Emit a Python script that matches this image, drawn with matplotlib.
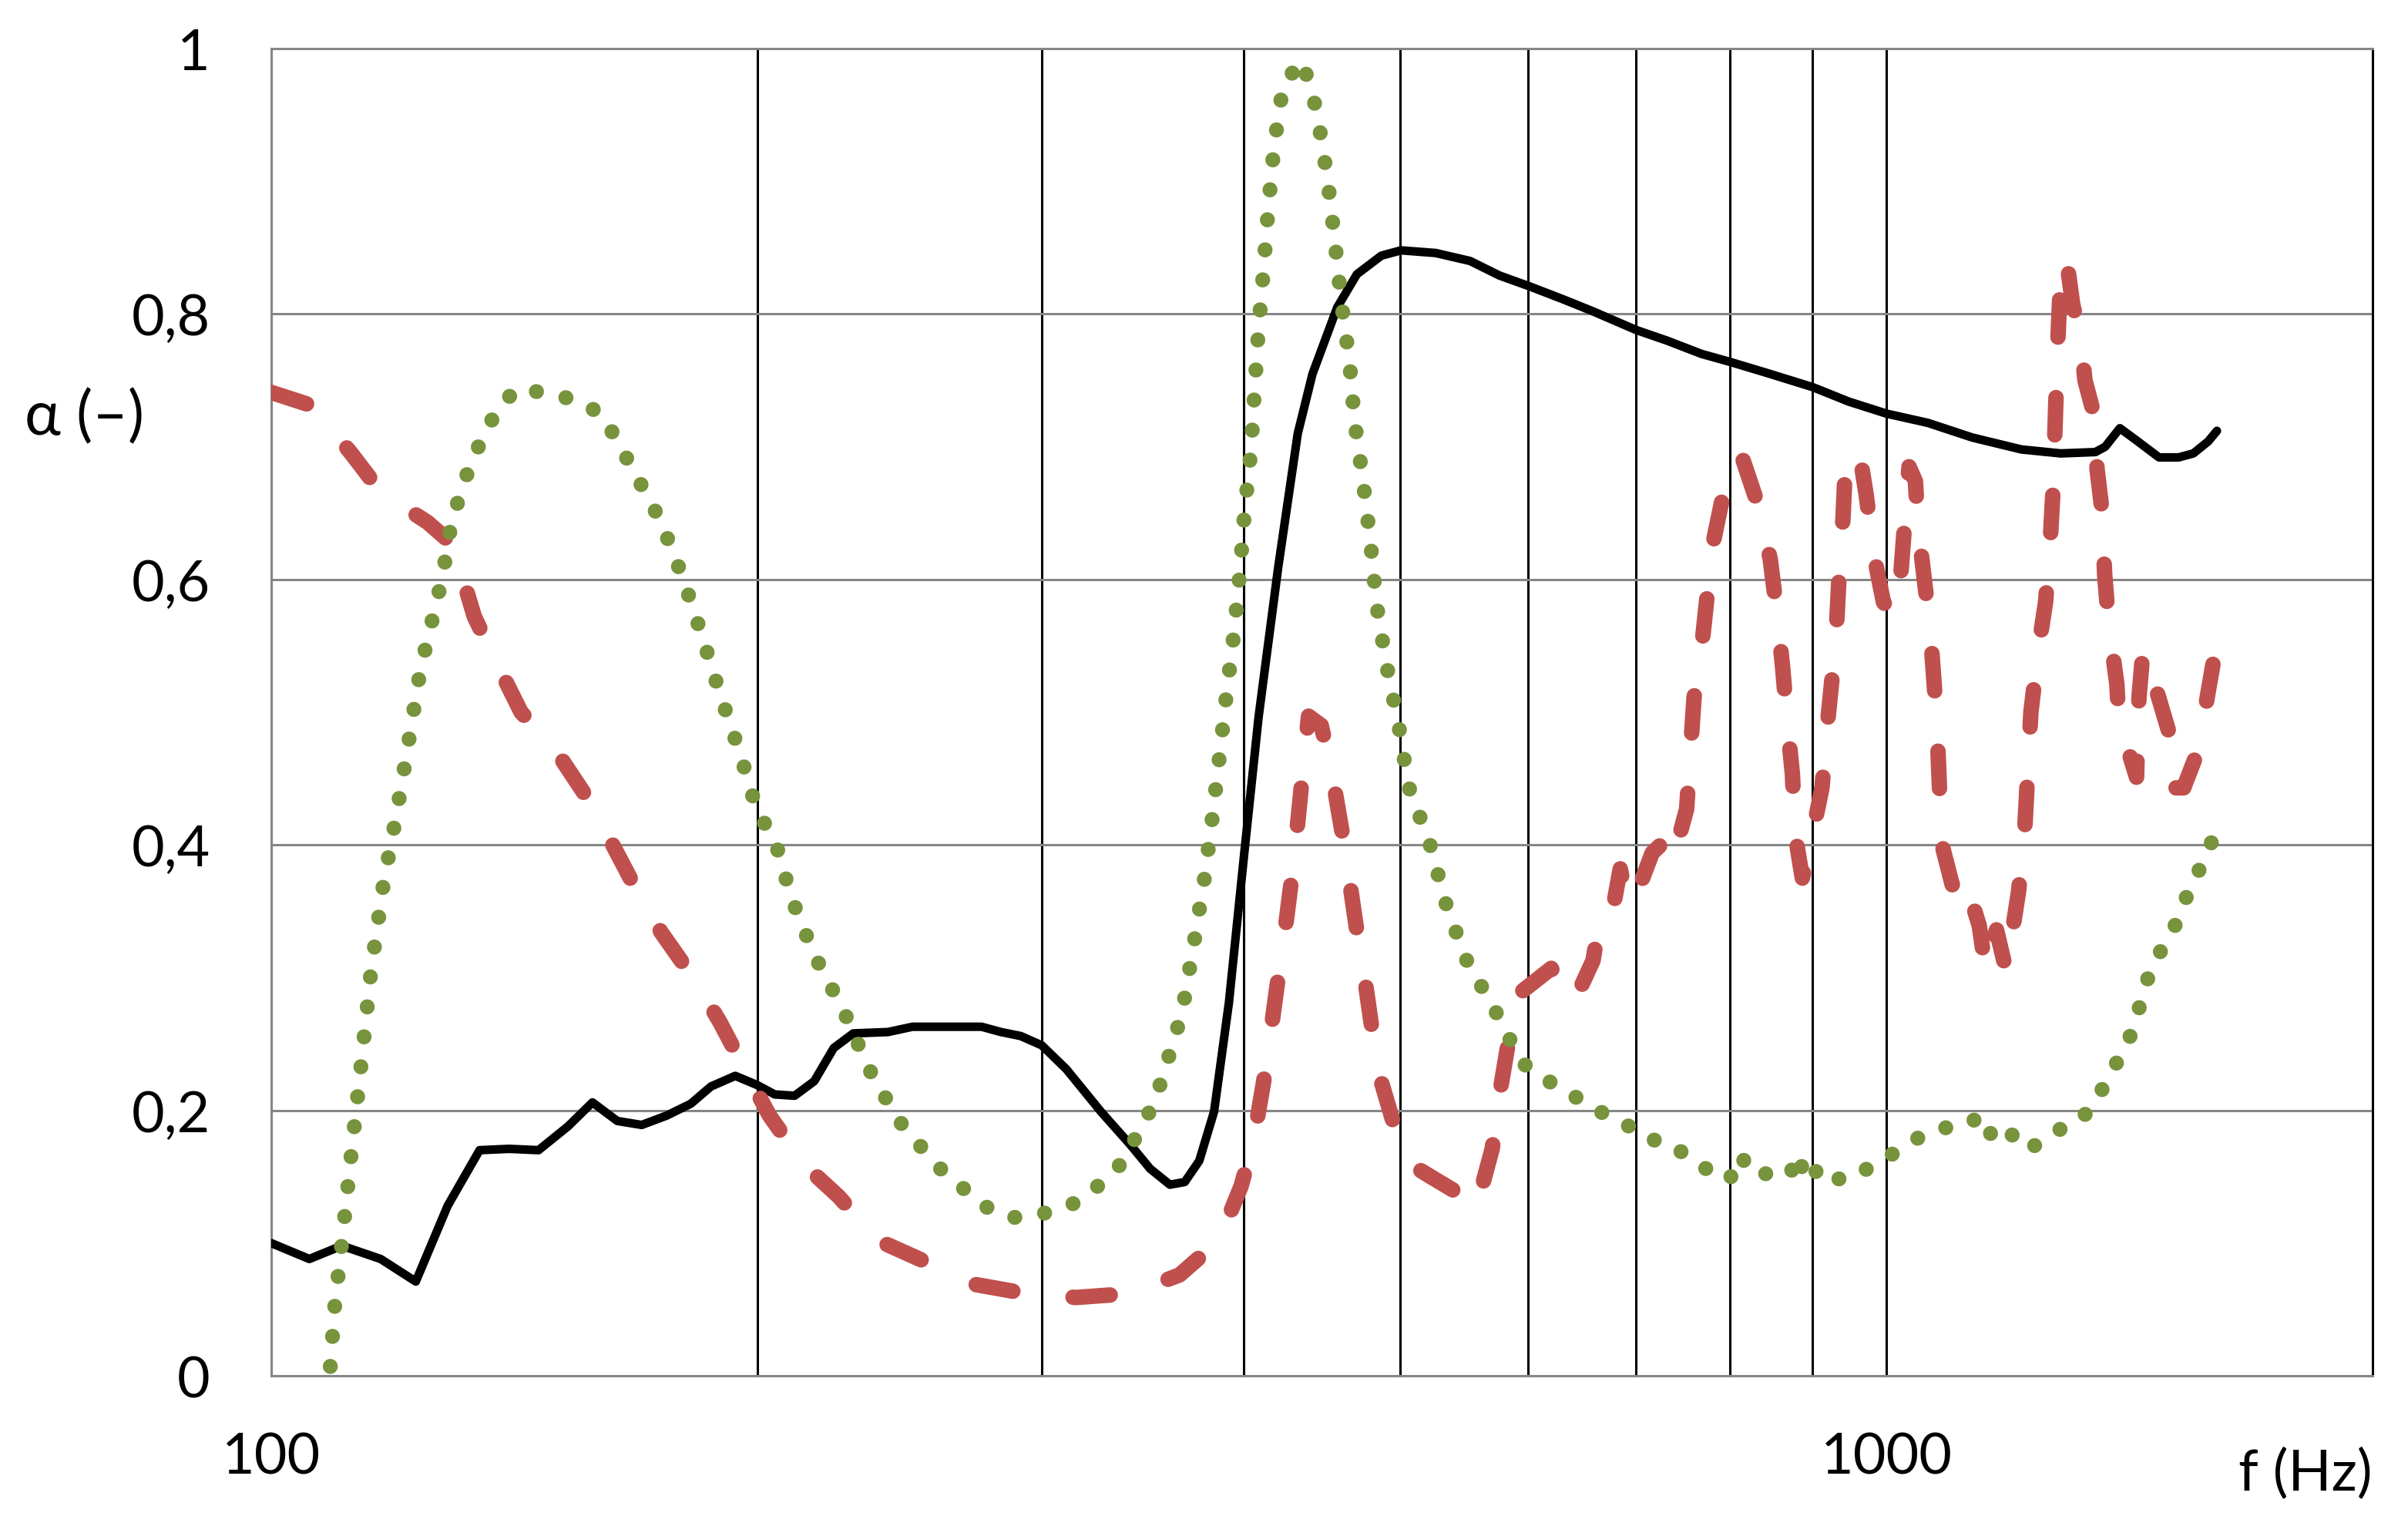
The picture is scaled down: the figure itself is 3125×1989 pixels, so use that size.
import numpy as np
import matplotlib.pyplot as plt
from matplotlib.ticker import FixedLocator, NullFormatter

plt.rcParams['font.family'] = ['Lato', 'DejaVu Sans']

# solid black curve
freq_black = [100, 105.6, 110.6, 116.9, 122.9, 128.6, 134.6, 140.4, 146.4, 152.7,
              158.1, 163.8, 169.6, 175.7, 181.9, 187.2, 193.8, 200, 205, 210.9,
              216.9, 223, 229.3, 240.9, 249.5, 275.3, 283.1, 291.1, 300, 310.7,
              326.4, 340.4, 350.1, 360.1, 367.8, 375.5, 383.5, 391.7, 400, 408.6,
              420.2, 432.1, 441.3, 457.1, 470.1, 486.8, 500.6, 526, 552.4, 576.1,
              600.9, 631.1, 658.3, 700, 731.4, 768.2, 800, 841.4, 900, 948,
              1000, 1061, 1130, 1212, 1282, 1347, 1366, 1395, 1424, 1475,
              1517, 1549, 1582, 1602]
alpha_black = [0.100, 0.088, 0.098, 0.088, 0.071, 0.128, 0.170, 0.171, 0.170, 0.188,
               0.206, 0.192, 0.189, 0.196, 0.205, 0.218, 0.226, 0.219, 0.212, 0.211,
               0.222, 0.247, 0.258, 0.259, 0.263, 0.263, 0.259, 0.256, 0.249, 0.231,
               0.199, 0.174, 0.156, 0.144, 0.146, 0.162, 0.199, 0.281, 0.389, 0.496,
               0.609, 0.710, 0.755, 0.805, 0.830, 0.844, 0.848, 0.846, 0.840, 0.829,
               0.821, 0.811, 0.802, 0.788, 0.780, 0.770, 0.764, 0.756, 0.745, 0.734,
               0.725, 0.718, 0.707, 0.698, 0.695, 0.696, 0.700, 0.714, 0.706, 0.692,
               0.692, 0.695, 0.704, 0.712]

# dotted green curve
freq_green = [108.8, 109.5, 110.6, 112.1, 113.7, 115.3, 117.4, 119.4, 121.1, 123.7,
              126.3, 127.6, 129.4, 133.1, 138.4, 142.3, 148.4, 154.8, 160.4, 167.3,
              174.4, 180, 185.1, 189.7, 195.1, 200, 205, 210.1, 216.9, 226.2,
              234.3, 244.4, 258.5, 276.2, 287.1, 300, 312.2, 323.6, 334.5, 341.7,
              348.9, 354.6, 359.4, 364, 367.8, 373, 378.3, 382.6, 386.5, 390.3,
              394.5, 397.8, 400.6, 404.3, 406.3, 408.6, 411.5, 414.4, 417.8, 423.1,
              434.3, 440.5, 444.8, 450.8, 455.5, 459.7, 465.2, 468.5, 474.4, 479.4,
              483.5, 490.3, 499, 506.1, 521.6, 533.3, 548.6, 572.1, 594.6, 615.8,
              638.7, 658.3, 684.1, 708.6, 736.4, 757.4, 778.9, 794.6, 805.8, 817.1,
              835.6, 859.4, 871.5, 880.8, 893.2, 909, 923.2, 954.8, 980.6, 1015.5,
              1051.8, 1081, 1108.6, 1130, 1150, 1162, 1183, 1212, 1222, 1257,
              1282, 1318, 1351, 1378, 1409, 1429, 1444, 1465, 1494, 1519,
              1540, 1568, 1596]
alpha_green = [0.007, 0.053, 0.100, 0.167, 0.235, 0.305, 0.372, 0.419, 0.463, 0.532,
               0.578, 0.601, 0.645, 0.690, 0.731, 0.744, 0.740, 0.735, 0.724, 0.684,
               0.643, 0.600, 0.555, 0.513, 0.469, 0.425, 0.404, 0.359, 0.317, 0.275,
               0.232, 0.193, 0.158, 0.128, 0.119, 0.122, 0.128, 0.141, 0.157, 0.176,
               0.196, 0.217, 0.240, 0.262, 0.285, 0.329, 0.375, 0.421, 0.467, 0.513,
               0.559, 0.604, 0.652, 0.698, 0.742, 0.789, 0.833, 0.881, 0.927, 0.972,
               0.991, 0.970, 0.947, 0.902, 0.856, 0.810, 0.764, 0.720, 0.673, 0.627,
               0.581, 0.536, 0.490, 0.444, 0.401, 0.357, 0.315, 0.276, 0.236, 0.223,
               0.212, 0.201, 0.193, 0.179, 0.175, 0.162, 0.154, 0.156, 0.146, 0.164,
               0.152, 0.153, 0.151, 0.167, 0.146, 0.157, 0.148, 0.149, 0.159, 0.169,
               0.181, 0.185, 0.192, 0.192, 0.196, 0.180, 0.187, 0.175, 0.170, 0.179,
               0.186, 0.192, 0.209, 0.229, 0.249, 0.270, 0.292, 0.312, 0.329, 0.346,
               0.367, 0.385, 0.407]

# dashed red curve
freq_red = [100, 106, 112.1, 116.9, 125, 129.4, 130.3, 133.6, 137.4, 142.8,
            149.5, 157, 162.1, 168.5, 174.4, 183.2, 189.7, 197.2, 203.5, 213.8,
            224.6, 237.5, 253, 272.3, 293.2, 315.1, 340.4, 365.1, 386.2, 398.6,
            405.7, 411.5, 415.8, 420.2, 424.6, 429.1, 432.1, 435.7, 438.8, 446.8,
            453.1, 460.1, 465.2, 470.1, 476.1, 481.8, 486.9, 500.7, 509.5, 524,
            540.8, 552.4, 558.3, 570.1, 576.1, 584.3, 592.5, 620.2, 640.2, 658.3,
            665.3, 677, 684.3, 691.5, 698.9, 716.2, 726.3, 736.6, 752.2, 760.2,
            768.2, 776.3, 781.9, 795.6, 812.6, 835.6, 847.5, 856.5, 862.5, 868.6,
            874.7, 877.8, 887.1, 899.6, 912.3, 918.7, 925.2, 931.7, 934.9, 940.2,
            942.9, 961.6, 971.6, 981.9, 995.8, 1010, 1020.5, 1027.8, 1032.8, 1042.3,
            1045.9, 1057, 1064.4, 1072, 1075.7, 1079.4, 1083.1, 1098.4, 1114, 1141.7,
            1152.1, 1170, 1186.3, 1207.4, 1218.4, 1224.3, 1228.8, 1241.8, 1254.8, 1263.7,
            1268.1, 1272.5, 1277, 1281.5, 1292.3, 1304.3, 1318, 1327.3, 1341.3, 1350.7,
            1360.2, 1365, 1372.6, 1389, 1393.8, 1413.5, 1428.5, 1433.5, 1441.7, 1470.2,
            1496, 1506.7, 1527.8, 1560.5, 1582.4, 1593.4]
alpha_red = [0.741, 0.731, 0.695, 0.666, 0.643, 0.627, 0.616, 0.572, 0.541, 0.500,
             0.474, 0.435, 0.404, 0.365, 0.334, 0.297, 0.266, 0.227, 0.196, 0.159,
             0.135, 0.102, 0.087, 0.069, 0.062, 0.059, 0.062, 0.076, 0.102, 0.143,
             0.177, 0.221, 0.259, 0.300, 0.338, 0.382, 0.417, 0.461, 0.497, 0.490,
             0.458, 0.411, 0.373, 0.335, 0.294, 0.250, 0.221, 0.171, 0.158, 0.149,
             0.139, 0.143, 0.130, 0.171, 0.212, 0.256, 0.288, 0.307, 0.281, 0.313,
             0.348, 0.351, 0.382, 0.355, 0.360, 0.394, 0.401, 0.386, 0.427, 0.511,
             0.547, 0.599, 0.630, 0.674, 0.695, 0.651, 0.615, 0.570, 0.534, 0.490,
             0.453, 0.409, 0.375, 0.407, 0.443, 0.487, 0.524, 0.568, 0.604, 0.648,
             0.682, 0.698, 0.664, 0.620, 0.583, 0.573, 0.602, 0.651, 0.685, 0.674,
             0.641, 0.594, 0.563, 0.511, 0.479, 0.433, 0.399, 0.370, 0.381, 0.339,
             0.305, 0.336, 0.305, 0.365, 0.414, 0.464, 0.500, 0.547, 0.583, 0.633,
             0.667, 0.724, 0.781, 0.823, 0.843, 0.807, 0.786, 0.750, 0.729, 0.682,
             0.651, 0.604, 0.568, 0.521, 0.487, 0.469, 0.451, 0.511, 0.547, 0.516,
             0.485, 0.443, 0.443, 0.472, 0.516, 0.537]

y_ticks = [0, 0.2, 0.4, 0.6, 0.8, 1]
y_labels = ['0', '0,2', '0,4', '0,6', '0,8', '1']
x_major = [100, 1000]
x_minor = [200, 300, 400, 500, 600, 700, 800, 900]

grey = '#868686'

fig = plt.figure(figsize=(31.25, 19.9), dpi=100)
ax = fig.add_axes([0.1126, 0.1025, 0.8727, 0.8653])

ax.plot(freq_black, alpha_black, color='black', lw=8,
        solid_joinstyle='round', solid_capstyle='round', zorder=3)
ax.plot(freq_red, alpha_red, color='#C0504D', lw=14.5,
        linestyle=(0, (2.4, 3.9)), dash_capstyle='round', dash_joinstyle='round', zorder=4)
ax.plot(freq_green, alpha_green, color='#77933C', lw=14,
        linestyle=(0, (0.01, 2.0)), dash_capstyle='round', zorder=5)

ax.set_xscale('log')
ax.set_xlim(100, 2000)
ax.set_ylim(0, 1)

ax.xaxis.set_major_locator(FixedLocator(x_major))
ax.xaxis.set_minor_locator(FixedLocator(x_minor))
ax.xaxis.set_minor_formatter(NullFormatter())
ax.set_xticklabels([str(v) for v in x_major])
ax.set_yticks(y_ticks)
ax.set_yticklabels(y_labels)

ax.grid(axis='x', which='both', color='black', lw=2.2)
ax.grid(axis='y', which='major', color=grey, lw=2.2)
ax.tick_params(axis='both', which='both', length=0, labelsize=53)
ax.tick_params(axis='y', pad=57)
ax.tick_params(axis='x', pad=52)

for side in ['left', 'bottom', 'top']:
    ax.spines[side].set_color(grey)
    ax.spines[side].set_linewidth(2.2)
ax.spines['right'].set_color('black')
ax.spines['right'].set_linewidth(2.2)

ax.text(1.0, -0.074, 'f (Hz)', transform=ax.transAxes, ha='right', va='center', fontsize=53)
fig.text(32 / 3125, 1 - 542 / 1990, 'α (–)', ha='left', va='center', fontsize=57)

fig.savefig('out.png', dpi=100)
